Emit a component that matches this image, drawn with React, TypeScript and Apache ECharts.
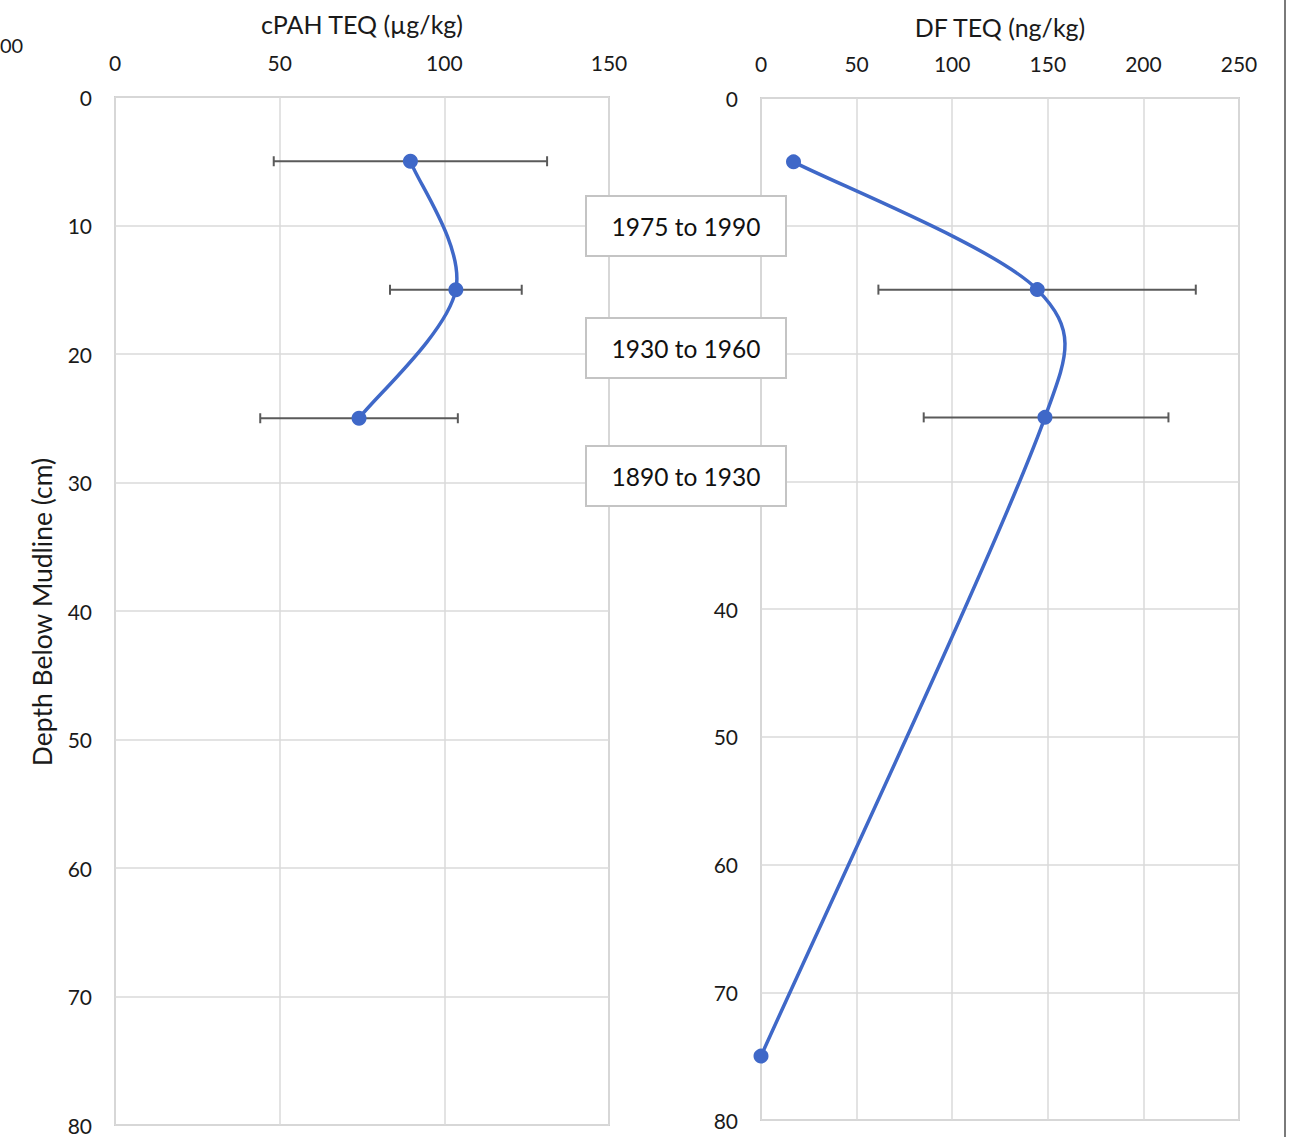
import React, { useEffect, useRef } from "react";
import * as echarts from "echarts";

// Core sample profiles: depth below mudline (cm) vs. toxic equivalents
const cpahDepths = [5, 15, 25];
const cpahTeq = [89.7, 103.5, 74.1];
const cpahErr = [41.5, 20, 30];

const dfDepths = [5, 15, 25, 75];
const dfTeq = [17, 144.5, 148.5, 0];
const dfErrDepths = [15, 25];
const dfErrCenter = [144.4, 149.1];
const dfErr = [83, 64];

const cpahTicks = [0, 50, 100, 150];
const dfTicks = [0, 50, 100, 150, 200, 250];
const depthRange = [0, 80];

const periodLabels = ["1975 to 1990", "1930 to 1960", "1890 to 1930"];

const FONT = "Lato, 'Open Sans', sans-serif";
const TEXT = "#1a1a1a";
const BLUE = "#3f68c8";
const GRID = "#dadada";

const errorBarRender = (params: any, api: any) => {
  const lo = api.coord([api.value(0), api.value(2)]);
  const hi = api.coord([api.value(1), api.value(2)]);
  const cap = 5;
  const style = { stroke: "#5a5a5a", lineWidth: 2 };
  return {
    type: "group",
    children: [
      { type: "line", shape: { x1: lo[0], y1: lo[1], x2: hi[0], y2: hi[1] }, style },
      { type: "line", shape: { x1: lo[0], y1: lo[1] - cap, x2: lo[0], y2: lo[1] + cap }, style },
      { type: "line", shape: { x1: hi[0], y1: hi[1] - cap, x2: hi[0], y2: hi[1] + cap }, style },
    ],
  };
};

// Spreadsheet-style smoothed line: cubic Bezier per segment, with control arms
// of (next - prev) / 6, limited to half the segment length.
const smoothSegmentRender = (xs: number[], ys: number[]) => (params: any, api: any) => {
  const i = params.dataIndex;
  const n = xs.length;
  if (i >= n - 1) return null;
  const pt = (k: number) => {
    const j = Math.max(0, Math.min(n - 1, k));
    return api.coord([xs[j], ys[j]]);
  };
  const p0 = pt(i - 1);
  const p1 = pt(i);
  const p2 = pt(i + 1);
  const p3 = pt(i + 2);
  const d12 = Math.hypot(p2[0] - p1[0], p2[1] - p1[1]);
  const arm = (a: number[], b: number[]) => {
    const vx = b[0] - a[0];
    const vy = b[1] - a[1];
    const len = Math.hypot(vx, vy);
    let f = 1 / 6;
    if (len / 6 > d12 / 2 && len > 0) f = d12 / 2 / len;
    return [vx * f, vy * f];
  };
  const a1 = arm(p0, p2);
  const a2 = arm(p1, p3);
  return {
    type: "bezierCurve",
    shape: {
      x1: p1[0],
      y1: p1[1],
      x2: p2[0],
      y2: p2[1],
      cpx1: p1[0] + a1[0],
      cpy1: p1[1] + a1[1],
      cpx2: p2[0] - a2[0],
      cpy2: p2[1] - a2[1],
    },
    style: { stroke: BLUE, lineWidth: 3.5, fill: "none", lineCap: "round" },
  };
};

export default function App() {
  const ref = useRef<HTMLDivElement>(null);

  useEffect(() => {
    if (!ref.current) return;
    const chart = echarts.init(ref.current, undefined, { renderer: "svg" });

    const xAxisBase = (max: number, idx: number) => ({
      type: "value",
      gridIndex: idx,
      position: "top",
      min: 0,
      max,
      interval: 50,
      axisLine: { show: false },
      axisTick: { show: false },
      axisLabel: { color: TEXT, fontSize: 21, fontFamily: FONT, margin: 24 },
      splitLine: { show: true, lineStyle: { color: GRID, width: 1.5 } },
    });
    const yAxisBase = (idx: number, formatter?: (v: number) => string) => ({
      type: "value",
      gridIndex: idx,
      inverse: true,
      min: depthRange[0],
      max: depthRange[1],
      interval: 10,
      axisLine: { show: false },
      axisTick: { show: false },
      axisLabel: { color: TEXT, fontSize: 21, fontFamily: FONT, margin: 23, formatter },
      splitLine: { show: true, lineStyle: { color: GRID, width: 1.5 } },
    });

    const boxes = periodLabels.map((label, i) => {
      const top = [196, 318, 446][i];
      return {
        type: "group",
        z: 100,
        children: [
          {
            type: "rect",
            z: 100,
            shape: { x: 586, y: top, width: 200, height: 60 },
            style: { fill: "#ffffff", stroke: "#c4c4c4", lineWidth: 2 },
          },
          {
            type: "text",
            z: 101,
            x: 686,
            y: top + 30,
            style: {
              text: label,
              font: `24.5px ${FONT}`,
              fill: "#111",
              textAlign: "center",
              textVerticalAlign: "middle",
            },
          },
        ],
      };
    });

    const markerSeries = (idx: number, xs: number[], ys: number[]) => ({
      type: "scatter",
      xAxisIndex: idx,
      yAxisIndex: idx,
      symbol: "circle",
      symbolSize: 15,
      itemStyle: { color: BLUE, opacity: 1 },
      data: xs.map((x, i) => [x, ys[i]]),
      z: 4,
    });

    const curveSeries = (idx: number, xs: number[], ys: number[]) => ({
      type: "custom",
      xAxisIndex: idx,
      yAxisIndex: idx,
      renderItem: smoothSegmentRender(xs, ys),
      encode: { x: 0, y: 1 },
      data: xs.map((x, i) => [x, ys[i]]),
      clip: false,
      z: 3,
    });

    chart.setOption({
      animation: false,
      backgroundColor: "#ffffff",
      grid: [
        { left: 115, top: 97, width: 494, height: 1028, show: true, borderColor: "#cfcfcf", borderWidth: 2 },
        { left: 761, top: 98, width: 478, height: 1022, show: true, borderColor: "#cfcfcf", borderWidth: 2 },
      ],
      xAxis: [xAxisBase(cpahTicks[cpahTicks.length - 1], 0), xAxisBase(dfTicks[dfTicks.length - 1], 1)],
      yAxis: [
        yAxisBase(0),
        // depths 10-30 sit under the dating boxes on this panel
        yAxisBase(1, (v: number) => (v > 0 && v < 40 ? "" : String(v))),
      ],
      series: [
        {
          type: "custom",
          xAxisIndex: 0,
          yAxisIndex: 0,
          renderItem: errorBarRender,
          encode: { x: [0, 1], y: 2 },
          data: cpahDepths.map((d, i) => [cpahTeq[i] - cpahErr[i], cpahTeq[i] + cpahErr[i], d]),
          z: 2,
        },
        curveSeries(0, cpahTeq, cpahDepths),
        markerSeries(0, cpahTeq, cpahDepths),
        {
          type: "custom",
          xAxisIndex: 1,
          yAxisIndex: 1,
          renderItem: errorBarRender,
          encode: { x: [0, 1], y: 2 },
          data: dfErrDepths.map((d, i) => [dfErrCenter[i] - dfErr[i], dfErrCenter[i] + dfErr[i], d]),
          z: 2,
        },
        curveSeries(1, dfTeq, dfDepths),
        markerSeries(1, dfTeq, dfDepths),
      ],
      graphic: [
        {
          type: "text",
          x: 362,
          y: 24,
          style: { text: "cPAH TEQ (µg/kg)", font: `25px ${FONT}`, fill: TEXT, textAlign: "center", textVerticalAlign: "middle" },
        },
        {
          type: "text",
          x: 1000,
          y: 27,
          style: { text: "DF TEQ (ng/kg)", font: `25px ${FONT}`, fill: TEXT, textAlign: "center", textVerticalAlign: "middle" },
        },
        {
          type: "text",
          x: 42,
          y: 612,
          rotation: Math.PI / 2,
          style: { text: "Depth Below Mudline (cm)", font: `26.5px ${FONT}`, fill: TEXT, textAlign: "center", textVerticalAlign: "middle" },
        },
        {
          type: "text",
          x: 0,
          y: 45,
          style: { text: "00", font: `20px ${FONT}`, fill: TEXT, textAlign: "left", textVerticalAlign: "middle" },
        },
        {
          type: "line",
          shape: { x1: 1285, y1: 0, x2: 1285, y2: 1137 },
          style: { stroke: "#7a7a7a", lineWidth: 2 },
        },
        ...boxes,
      ],
    });

    return () => chart.dispose();
  }, []);

  return (
    <div
      ref={ref}
      style={{ position: "absolute", left: 0, top: 0, width: 1294, height: 1137, background: "#fff" }}
    />
  );
}
